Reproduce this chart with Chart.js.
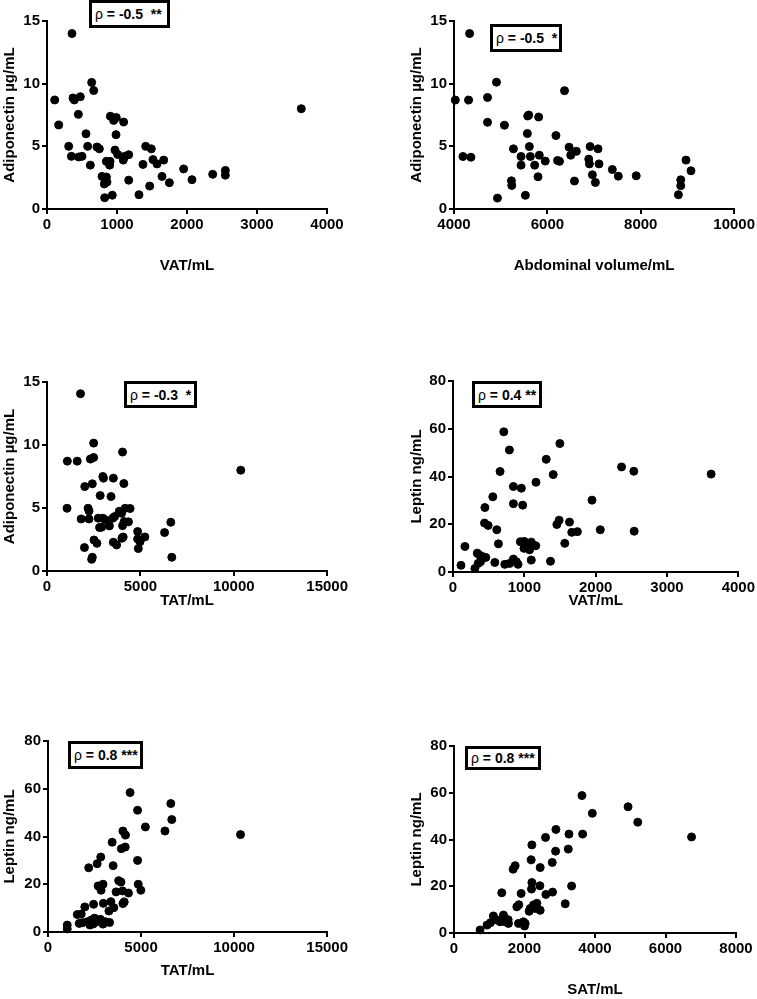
<!DOCTYPE html>
<html>
<head>
<meta charset="utf-8">
<script src="https://cdn.jsdelivr.net/npm/chart.js@4.4.1/dist/chart.umd.min.js"></script>
<style>
  body { margin: 0; background: #fff; }
  #page { position: relative; width: 757px; height: 999px; overflow: hidden; background: #fff; }
  #page canvas { position: absolute; }
  .rho {
    position: absolute; box-sizing: border-box; border: 3px solid #000; background: #fff;
    font-family: 'Liberation Sans', Arial, sans-serif; font-weight: bold; font-size: 14px;
    display: flex; align-items: center; padding-left: 3px; white-space: pre; color: #000;
  }
  .rho span { font-weight: normal; }
</style>
</head>
<body>
<div id="page"></div>
<script>
// values

// tick values
const vatTicks = [0, 1000, 2000, 3000, 4000];
const abdTicks = [4000, 6000, 8000, 10000];
const tatTicks = [0, 5000, 10000, 15000];
const satTicks = [0, 2000, 4000, 6000, 8000];
const adipoTicks = [0, 5, 10, 15];
const leptinTicks = [0, 20, 40, 60, 80];

// panel 1: VAT vs adiponectin
const p1Vat = [357,110,167,371,390,476,448,638,667,310,348,452,500,557,581,619,714,748,786,819,
  824,848,857,848,900,895,905,952,990,933,986,971,1010,1095,1090,1110,1167,1167,1314,1371,
  1410,1490,1514,1467,1571,1667,1643,1748,1952,2071,2367,2548,2548,3633];
const p1Adipo = [14.0,8.7,6.7,8.86,8.7,8.96,7.55,10.1,9.45,5.0,4.2,4.15,4.2,6.0,5.0,3.5,4.95,4.8,2.6,2.0,
  0.9,2.55,2.15,3.8,3.8,3.5,7.4,7.07,7.3,1.1,5.93,4.7,4.35,6.94,3.9,4.2,4.33,2.3,1.14,3.56,
  5.0,4.8,3.94,1.83,3.6,3.9,2.6,2.1,3.2,2.34,2.77,3.08,2.7,8.0];

// panel 2: abdominal volume vs adiponectin
const p2Abd = [4028,4192,4313,4334,4362,4718,4718,4910,4931,5080,5230,5237,5273,5436,5436,5529,5578,5600,5571,5614,
  5635,5728,5799,5813,5827,5955,6183,6367,6218,6260,6465,6500,6620,6580,6915,6886,6900,6964,7028,7085,
  7106,7391,7519,7903,8806,8856,8856,8969,9076];
const p2Adipo = [8.69,4.19,8.69,14.0,4.13,8.9,6.92,10.12,0.87,6.68,2.25,1.88,4.8,4.19,3.5,1.09,7.42,7.5,6.02,4.98,
  4.19,3.5,2.57,7.34,4.29,3.82,5.86,9.44,3.87,3.8,4.93,4.29,4.6,2.23,4.98,3.98,3.6,2.73,2.12,4.8,
  3.6,3.15,2.62,2.65,1.14,2.33,1.86,3.9,3.05];

// panel 3: TAT vs adiponectin
const p3Tat = [1794,1090,1618,1073,1829,2005,2022,2198,2250,2250,2321,2497,2497,2427,2391,2427,2515,2673,2743,2813,
  2849,2989,3024,2989,2919,3130,3341,3429,3517,3552,3622,3552,3728,3869,3992,4045,4115,4045,4133,4185,
  4010,4080,4361,4449,4853,4853,4888,4984,5240,6295,6629,6682,10375];
const p3Adipo = [14.07,8.72,8.72,4.98,4.13,1.86,6.7,4.98,4.13,4.77,8.88,9.01,10.15,6.92,0.93,1.09,2.46,2.2,4.19,3.45,
  5.99,7.5,7.37,4.19,3.47,4.06,3.58,5.91,4.19,7.37,4.32,2.28,2.07,4.74,4.58,9.44,6.94,3.6,3.92,4.98,
  2.6,2.7,3.9,4.96,3.13,2.54,1.78,2.33,2.7,3.05,3.87,1.09,8.0];

// panel 4: VAT vs leptin
const p4Vat = [112,167,307,340,367,353,386,423,460,447,442,493,558,586,614,637,660,712,726,791,
  795,847,847,847,888,912,958,977,944,1000,995,1028,1074,1098,1098,1160,1163,1307,1367,1405,
  1456,1488,1498,1567,1633,1665,1744,1949,2065,2363,2535,2540,3619];
const p4Leptin = [2.8,10.7,1.5,7.9,7.2,3.6,4.3,6.4,6.1,27.0,20.5,19.5,31.5,4.0,17.7,11.8,42.1,58.7,3.2,51.1,
  3.6,35.8,28.6,5.4,4.3,3.2,35.1,28.0,12.7,12.8,9.9,11.3,9.3,12.5,5.0,11.0,37.6,47.2,4.5,40.8,
  19.9,21.7,53.8,12.0,20.9,16.6,16.9,30.1,17.7,44.0,42.2,17.1,41.0];

// panel 5: TAT vs leptin
const p5Tat = [1033,1033,1575,1786,1978,1680,1855,2118,2258,2328,2433,2450,2608,2818,3080,2957,2188,2642,2835,2695,
  2853,2957,2975,3273,3378,3536,3448,3500,3658,3798,3921,4009,4026,4096,4324,3939,4149,4026,4166,4411,
  4813,4813,4848,4988,5234,6284,6599,6652,10345,3308,2500];
const p5Leptin = [1.3,2.9,7.3,7.5,10.5,3.6,3.9,4.3,2.9,5.0,3.4,11.6,4.3,5.3,4.3,3.3,26.9,28.6,31.4,19.3,
  17.5,20.0,12.0,8.8,12.7,10.2,37.6,27.8,16.8,21.5,20.9,17.2,11.9,12.6,16.3,34.9,35.6,42.3,40.6,58.4,
  51.0,30.0,20.0,17.5,44.0,42.3,53.8,47.1,40.8,4.0,5.8];

// panel 6: SAT vs leptin
const p6Sat = [739,938,1033,1118,1213,1308,1403,1450,1545,1355,1829,1970,2019,1905,1782,1839,2161,2256,2351,2303,
  2133,2445,2209,2199,2436,2607,2796,3336,3156,1678,1735,2445,2190,2787,2209,2882,3242,2597,2891,3261,
  3649,3630,3924,4938,5213,6739,1536,2000];
const p6Leptin = [1.3,3.4,4.4,7.3,5.6,4.8,7.7,4.8,4.1,17.2,4.1,4.8,4.1,16.9,11.2,12.1,10.5,12.0,12.7,10.5,
  9.3,9.7,21.6,18.8,20.2,16.5,17.5,20.1,12.5,27.3,28.8,28.0,31.3,30.2,37.7,35.0,35.9,40.9,44.3,42.3,
  42.3,58.8,51.2,54.0,47.4,41.1,5.7,3.0];

const panels = [
  { x: p1Vat, y: p1Adipo, xTicks: vatTicks, yTicks: adipoTicks, xTitle: 'VAT/mL', yTitle: 'Adiponectin µg/mL',
    rho: '-0.5  **', left: 0, top: 0, w: 350, h: 275, area: { l: 47, r: 327, t: 21, b: 209 }, box: [89, 0, 81, 28] },
  { x: p2Abd, y: p2Adipo, xTicks: abdTicks, yTicks: adipoTicks, xTitle: 'Abdominal volume/mL', yTitle: 'Adiponectin µg/mL',
    rho: '-0.5  *', left: 407, top: 0, w: 350, h: 275, area: { l: 454, r: 736, t: 21, b: 209 }, box: [490, 24, 72, 28] },
  { x: p3Tat, y: p3Adipo, xTicks: tatTicks, yTicks: adipoTicks, xTitle: 'TAT/mL', yTitle: 'Adiponectin µg/mL',
    rho: '-0.3  *', left: 0, top: 320, w: 350, h: 290, area: { l: 47, r: 331, t: 382, b: 571 }, box: [124, 381, 73, 27] },
  { x: p4Vat, y: p4Leptin, xTicks: vatTicks, yTicks: leptinTicks, xTitle: 'VAT/mL', yTitle: 'Leptin ng/mL',
    rho: '0.4 **', left: 407, top: 320, w: 350, h: 290, area: { l: 453, r: 740, t: 381, b: 572 }, box: [472, 381, 70, 27] },
  { x: p5Tat, y: p5Leptin, xTicks: tatTicks, yTicks: leptinTicks, xTitle: 'TAT/mL', yTitle: 'Leptin ng/mL',
    rho: '0.8 ***', left: 0, top: 660, w: 350, h: 320, area: { l: 48, r: 333, t: 741, b: 932 }, box: [68, 741, 75, 28] },
  { x: p6Sat, y: p6Leptin, xTicks: satTicks, yTicks: leptinTicks, xTitle: 'SAT/mL', yTitle: 'Leptin ng/mL',
    rho: '0.8 ***', left: 407, top: 660, w: 350, h: 339, area: { l: 454, r: 736, t: 746, b: 933 }, box: [465, 746, 76, 24] }
];

const page = document.getElementById('page');
const axisFont = { family: "'Liberation Sans', Arial, sans-serif", size: 15, weight: 'bold' };

function axisOptions(ticks, title, fit) {
  return {
    type: 'linear',
    min: ticks[0],
    max: ticks[ticks.length - 1],
    afterBuildTicks: s => { s.ticks = ticks.map(v => ({ value: v })); },
    afterFit: fit,
    ticks: { color: '#000', font: axisFont, padding: 2, autoSkip: false, maxRotation: 0, callback: v => String(v) },
    grid: { drawOnChartArea: false, drawTicks: true, tickLength: 5, color: '#000', lineWidth: 2 },
    border: { display: true, color: '#000', width: 2 },
    title: { display: true, text: title, color: '#000', font: axisFont, padding: { top: 1, bottom: 0 } }
  };
}

function renderPanel(p) {
  const cv = document.createElement('canvas');
  cv.width = p.w;
  cv.height = p.h;
  cv.style.left = p.left + 'px';
  cv.style.top = p.top + 'px';
  cv.style.width = p.w + 'px';
  cv.style.height = p.h + 'px';
  page.appendChild(cv);

  const a = p.area;
  new Chart(cv, {
    type: 'scatter',
    data: {
      datasets: [{
        data: p.x.map((v, i) => ({ x: v, y: p.y[i] })),
        backgroundColor: '#000',
        borderColor: '#000',
        pointRadius: 4,
        pointHoverRadius: 4,
        clip: false
      }]
    },
    options: {
      responsive: false,
      animation: false,
      devicePixelRatio: 1,
      layout: { padding: { top: a.t - p.top, right: p.left + p.w - a.r, left: 0, bottom: 0 } },
      plugins: { legend: { display: false }, tooltip: { enabled: false } },
      scales: {
        x: axisOptions(p.xTicks, p.xTitle, s => { s.height = p.top + p.h - a.b; }),
        y: axisOptions(p.yTicks, p.yTitle, s => { s.width = a.l - p.left; })
      }
    }
  });

  const box = document.createElement('div');
  box.className = 'rho';
  box.style.left = p.box[0] + 'px';
  box.style.top = p.box[1] + 'px';
  box.style.width = p.box[2] + 'px';
  box.style.height = p.box[3] + 'px';
  box.innerHTML = '<span>ρ</span> = ' + p.rho;
  page.appendChild(box);
}

panels.forEach(renderPanel);
</script>
</body>
</html>
